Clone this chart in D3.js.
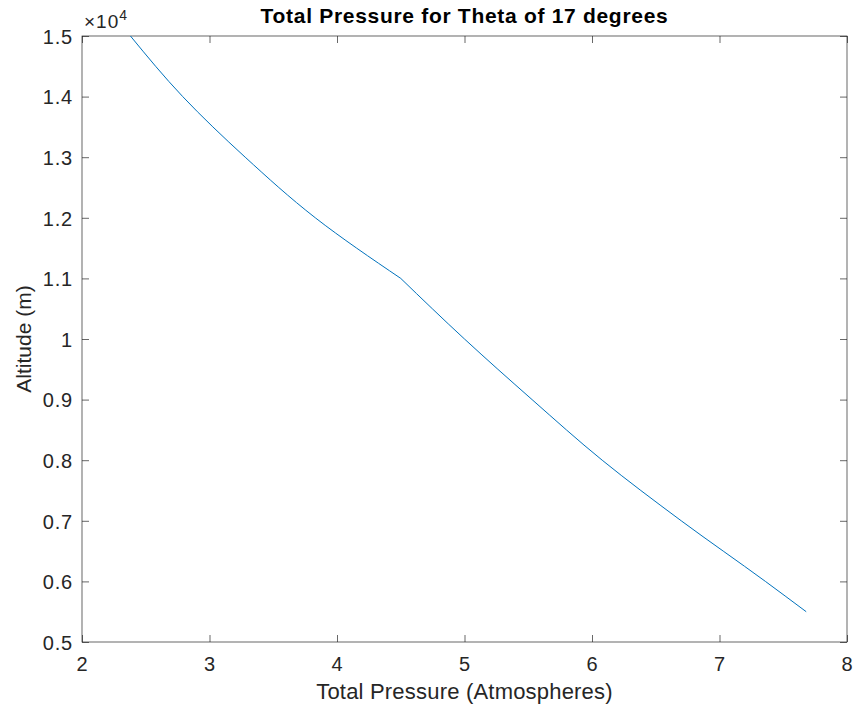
<!DOCTYPE html>
<html>
<head>
<meta charset="utf-8">
<script src="https://cdn.jsdelivr.net/npm/d3@7"></script>
<style>
  body { margin: 0; background: #fff; }
  text { font-family: Arial, "Liberation Sans", Helvetica, sans-serif; fill: #262626; }
</style>
</head>
<body>
<svg id="chart" width="858" height="711"></svg>
<script>
// Data: altitude (m) against total pressure (atm)
const altitude = [15000, 14000, 13000, 12000, 11000, 10000, 9000, 8000, 7000, 6000, 5500];
const pressure = [2.38, 2.79, 3.28, 3.83, 4.50, 5.00, 5.53, 6.08, 6.70, 7.36, 7.68];
// the curve bends at the tropopause
const tropopause = 11000;

const xTicks = [2, 3, 4, 5, 6, 7, 8];
const yTicks = [0.5, 0.6, 0.7, 0.8, 0.9, 1, 1.1, 1.2, 1.3, 1.4, 1.5];

const titleText = "Total Pressure for Theta of 17 degrees";
const xLabelText = "Total Pressure (Atmospheres)";
const yLabelText = "Altitude (m)";

let svg = d3.select("#chart");

// Caja de ejes
let mLeft = 82, mRight = 847, mTop = 36, mBottom = 642;

let x = d3.scaleLinear().domain([2, 8]).range([mLeft, mRight]);
let y = d3.scaleLinear().domain([0.5, 1.5]).range([mBottom, mTop]);

const axisColor = "#262626";
const tickLen = 7;

// ticks hacia dentro en los cuatro lados
let gx = svg.append("g").attr("transform", `translate(0,${mBottom})`)
    .call(d3.axisBottom(x).tickValues(xTicks).tickSizeInner(-tickLen).tickSizeOuter(0)
        .tickFormat(d3.format("d")));
let gxTop = svg.append("g").attr("transform", `translate(0,${mTop})`)
    .call(d3.axisTop(x).tickValues(xTicks).tickSizeInner(-tickLen).tickSizeOuter(0).tickFormat(""));
let gy = svg.append("g").attr("transform", `translate(${mLeft},0)`)
    .call(d3.axisLeft(y).tickValues(yTicks).tickSizeInner(-tickLen).tickSizeOuter(0)
        .tickFormat(d => d === 1 ? "1" : d3.format(".1f")(d)));
let gyRight = svg.append("g").attr("transform", `translate(${mRight},0)`)
    .call(d3.axisRight(y).tickValues(yTicks).tickSizeInner(-tickLen).tickSizeOuter(0).tickFormat(""));

[gx, gxTop, gy, gyRight].forEach(g => {
    g.select(".domain").remove();
    g.selectAll(".tick line").attr("stroke", axisColor).attr("stroke-width", 0.7);
    g.selectAll(".tick text").attr("font-size", 20).attr("fill", axisColor)
        .attr("letter-spacing", 0.8)
        .style("font-family", "Arial, 'Liberation Sans', sans-serif");
});
gx.selectAll(".tick text").attr("dy", "0.71em").attr("y", 15);
gy.selectAll(".tick text").attr("x", -9).attr("dy", "0.36em");

// marco
svg.append("rect")
    .attr("x", mLeft).attr("y", mTop)
    .attr("width", mRight - mLeft).attr("height", mBottom - mTop)
    .attr("fill", "none")
    .attr("stroke", axisColor)
    .attr("stroke-width", 0.7);

// curva, en dos tramos para que el codo quede marcado
let points = altitude.map((a, i) => [pressure[i], a / 1e4]);
let upper = points.filter(d => d[1] * 1e4 >= tropopause);
let lower = points.filter(d => d[1] * 1e4 <= tropopause);
let line = d3.line().x(d => x(d[0])).y(d => y(d[1])).curve(d3.curveMonotoneY);
svg.selectAll("path.curve")
    .data([upper, lower])
    .enter()
    .append("path")
    .attr("class", "curve")
    .attr("d", line)
    .attr("fill", "none")
    .attr("stroke", "#0072BD")
    .attr("stroke-width", 1);

// titulo
svg.append("text")
    .attr("x", (mLeft + mRight) / 2).attr("y", 23)
    .attr("text-anchor", "middle")
    .attr("font-size", 21)
    .attr("font-weight", "bold")
    .attr("letter-spacing", 0.7)
    .style("fill", "#000")
    .text(titleText);

// multiplicador del eje y
let mult = svg.append("text").attr("x", 84).attr("y", 28).attr("font-size", 19).attr("letter-spacing", 1);
mult.append("tspan").text("\u00d710");
mult.append("tspan").attr("dy", -8).attr("font-size", 14).text("4");

// etiquetas
svg.append("text")
    .attr("x", (mLeft + mRight) / 2).attr("y", 699)
    .attr("text-anchor", "middle")
    .attr("font-size", 22)
    .attr("letter-spacing", 0.2)
    .text(xLabelText);

svg.append("text")
    .attr("transform", `translate(31,${(mTop + mBottom) / 2}) rotate(-90)`)
    .attr("text-anchor", "middle")
    .attr("font-size", 21)
    .text(yLabelText);
</script>
</body>
</html>
